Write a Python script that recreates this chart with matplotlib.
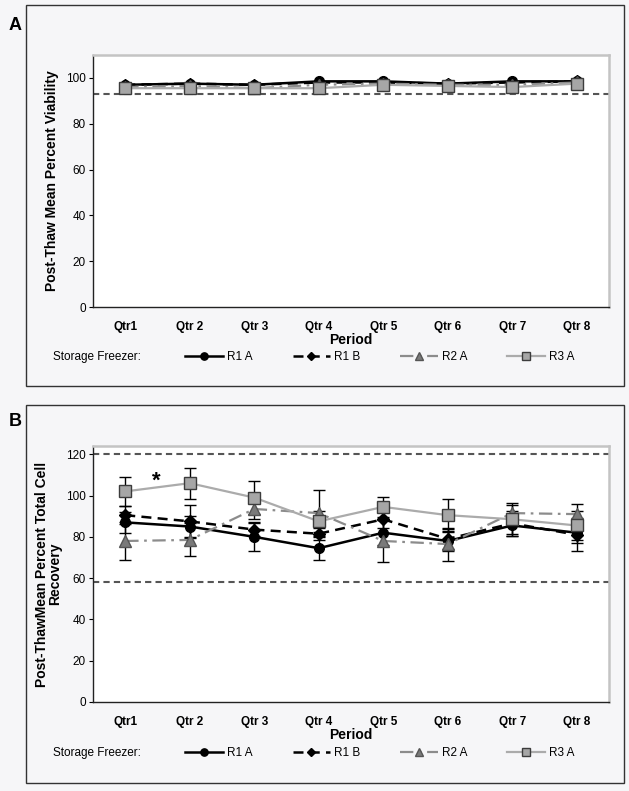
import numpy as np
import matplotlib.pyplot as plt
from matplotlib.patches import Rectangle
from matplotlib.lines import Line2D

plt.rcParams['font.family'] = ['Liberation Sans', 'DejaVu Sans']

# DATA
periods = ["Qtr1", "Qtr 2", "Qtr 3", "Qtr 4", "Qtr 5", "Qtr 6", "Qtr 7", "Qtr 8"]
series = ["R1 A", "R1 B", "R2 A", "R3 A"]

# panel A - viability
via_r1a = [97.0, 97.5, 97.0, 98.5, 98.5, 97.5, 98.5, 98.5]
via_r1b = [97.0, 97.5, 97.0, 98.0, 98.0, 97.5, 98.0, 98.5]
via_r2a = [96.0, 96.5, 95.5, 97.0, 97.5, 97.0, 97.0, 98.0]
via_r3a = [95.5, 95.5, 95.5, 95.5, 97.0, 96.5, 96.0, 97.5]
via_limit = 93

# panel B - total cell recovery
rec_r1a = [87.0, 85.0, 80.0, 74.5, 82.0, 78.0, 85.5, 82.0]
rec_r1b = [90.5, 87.5, 83.5, 81.5, 88.5, 79.0, 86.5, 81.0]
rec_r2a = [78.0, 78.5, 93.5, 91.5, 78.0, 76.5, 91.5, 91.0]
rec_r3a = [102.0, 106.0, 99.0, 87.5, 94.5, 90.5, 88.5, 85.5]
err_r1a = [5.0, 5.0, 7.0, 5.5, 6.0, 5.0, 5.0, 5.0]
err_r1b = [4.5, 8.0, 3.0, 3.0, 4.0, 5.0, 6.0, 8.0]
err_r2a = [9.0, 8.0, 5.0, 11.0, 10.0, 8.0, 5.0, 5.0]
err_r3a = [7.0, 7.5, 8.0, 5.0, 5.0, 8.0, 7.0, 7.0]
rec_limits = [120, 58]

styles = {
    "R1 A": dict(color="black", ls="-", lw=1.8, marker="o", ms=7, mfc="black", mec="black"),
    "R1 B": dict(color="black", ls=(0, (4, 2.5)), lw=1.8, marker="D", ms=6, mfc="black", mec="black"),
    "R2 A": dict(color="#8c8c8c", ls=(0, (6, 2.5, 1.2, 2.5)), lw=1.6, marker="^", ms=8, mfc="#7a7a7a", mec="#555555"),
    "R3 A": dict(color="#ababab", ls="-", lw=1.6, marker="s", ms=8, mfc="#a6a6a6", mec="#3c3c3c"),
}

fig = plt.figure(figsize=(6.29, 7.91), dpi=100)
fig.patch.set_facecolor("#f6f6f8")

# outer panel boxes
for yb, h in [(405 / 791, 381 / 791), (8 / 791, 378 / 791)]:
    fig.add_artist(Rectangle((26 / 629, yb), 598 / 629, h, transform=fig.transFigure,
                             fill=False, edgecolor="#333333", lw=1.0))
fig.text(15 / 629, 1 - 25 / 791, "A", fontsize=13, fontweight="bold", va="center", ha="center")
fig.text(15 / 629, 1 - 421 / 791, "B", fontsize=13, fontweight="bold", va="center", ha="center")

x = np.arange(len(periods))


def style_axes(ax, ymax, yticks):
    ax.set_xlim(-0.5, len(periods) - 0.5)
    ax.set_ylim(0, ymax)
    ax.set_yticks(yticks)
    ax.set_xticks(x)
    ax.set_xticklabels(periods, fontweight="bold", fontsize=8.5)
    ax.tick_params(axis="x", length=0, pad=10)
    ax.tick_params(axis="y", labelsize=8.5, length=3, pad=2)
    for s in ["top", "right"]:
        ax.spines[s].set_color("#c4c4c4")
        ax.spines[s].set_linewidth(1.8)
    for s in ["left", "bottom"]:
        ax.spines[s].set_color("#222222")
        ax.spines[s].set_linewidth(1.0)
    ax.set_xlabel("Period", fontweight="bold", fontsize=10, labelpad=0)
    ax.set_facecolor("white")


def legend_row(ax, ypos):
    handles = [Line2D([], [], **styles[s]) for s in series]
    for h in handles:
        h.set_markersize(h.get_markersize() * 0.75)
    ax.legend(handles, series, loc="center left", bbox_to_anchor=(0.17, ypos), ncol=4,
              frameon=False, fontsize=8.5, handlelength=3.2, columnspacing=3.4,
              handletextpad=0.3, borderaxespad=0)
    ax.text(-0.077, ypos, "Storage Freezer:", transform=ax.transAxes, fontsize=8.5,
            va="center", ha="left")


# panel A
axA = fig.add_axes([93 / 629, 1 - 307 / 791, 516 / 629, 252 / 791])
axA.axhline(via_limit, color="#555555", ls=(0, (3, 2)), lw=1.5, zorder=1)
for name, vals in zip(series, [via_r1a, via_r1b, via_r2a, via_r3a]):
    axA.plot(x, vals, **styles[name], zorder=3)
style_axes(axA, 110, [0, 20, 40, 60, 80, 100])
axA.set_ylabel("Post-Thaw Mean Percent Viability", fontweight="bold", fontsize=10, labelpad=5)
legend_row(axA, -0.2)

# panel B
axB = fig.add_axes([93 / 629, 1 - 702 / 791, 516 / 629, 256 / 791])
for lim in rec_limits:
    axB.axhline(lim, color="#555555", ls=(0, (3, 2)), lw=1.5, zorder=1)
for name, vals, err in zip(series, [rec_r1a, rec_r1b, rec_r2a, rec_r3a],
                           [err_r1a, err_r1b, err_r2a, err_r3a]):
    axB.errorbar(x, vals, yerr=err, ecolor="black", elinewidth=1.0, capsize=4,
                 capthick=1.0, zorder=3, **styles[name])
axB.text(0.48, 107, "*", fontsize=16, fontweight="bold", ha="center", va="center")
style_axes(axB, 124, [0, 20, 40, 60, 80, 100, 120])
axB.set_ylabel("Post-ThawMean Percent Total Cell\nRecovery", fontweight="bold",
               fontsize=10, labelpad=3, linespacing=0.95)
legend_row(axB, -0.2)

fig.savefig("out.png", dpi=100, facecolor=fig.get_facecolor())
